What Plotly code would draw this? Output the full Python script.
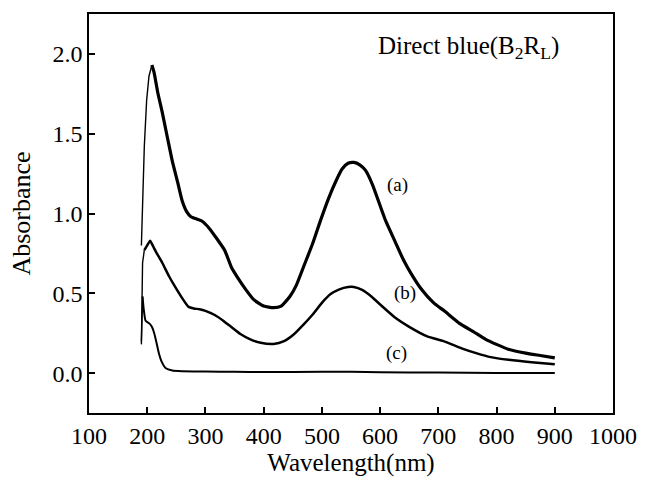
import plotly.graph_objects as go

# Curve (a)
wl_a = [190, 192, 195, 199, 203, 208, 212, 218, 226, 235, 243, 252, 260, 268, 275, 285, 295, 307, 320, 333,
        345, 355, 370, 383, 400, 417, 430, 445, 456, 470, 484, 498, 512, 525, 535, 545, 555, 565, 575, 587,
        597, 610, 625, 640, 653, 670, 692, 710, 737, 760, 782, 800, 820, 850, 875, 900]
abs_a = [0.80, 1.08, 1.42, 1.71, 1.86, 1.93, 1.88, 1.76, 1.63, 1.47, 1.33, 1.20, 1.08, 1.01, 0.98, 0.965, 0.95, 0.905, 0.84, 0.77,
         0.66, 0.60, 0.52, 0.46, 0.42, 0.41, 0.42, 0.48, 0.55, 0.68, 0.81, 0.96, 1.10, 1.21, 1.28, 1.315, 1.32, 1.305, 1.27, 1.18,
         1.08, 0.95, 0.83, 0.71, 0.625, 0.53, 0.44, 0.39, 0.31, 0.26, 0.21, 0.18, 0.15, 0.125, 0.11, 0.095]

# Curve (b)
wl_b = [190, 191, 192, 195, 200, 205, 208, 215, 226, 237, 248, 260, 271, 280, 290, 300, 316, 330, 344, 360,
        378, 395, 417, 435, 451, 470, 485, 500, 515, 530, 545, 555, 570, 585, 600, 625, 650, 681, 709, 740, 765,
        790, 821, 860, 900]
abs_b = [0.18, 0.45, 0.69, 0.77, 0.80, 0.83, 0.81, 0.76, 0.69, 0.61, 0.54, 0.47, 0.415, 0.405, 0.40, 0.39, 0.364, 0.33, 0.29, 0.245,
         0.21, 0.19, 0.183, 0.20, 0.24, 0.31, 0.37, 0.44, 0.495, 0.525, 0.54, 0.54, 0.52, 0.48, 0.43, 0.35, 0.29, 0.23, 0.20, 0.155, 0.125,
         0.10, 0.083, 0.068, 0.056]

# Curve (c)
wl_c = [190, 192, 194, 197, 200, 204, 208, 212, 216, 220, 225, 232, 243, 260, 300, 350, 400, 500, 550, 600, 700, 800, 900]
abs_c = [0.20, 0.48, 0.40, 0.33, 0.32, 0.31, 0.29, 0.25, 0.19, 0.125, 0.07, 0.03, 0.016, 0.012, 0.01, 0.008, 0.007, 0.008, 0.009, 0.006, 0.003, 0.001, 0.0]

curve_labels = ["(a)", "(b)", "(c)"]
label_x = [630, 642, 628]
label_y = [1.18, 0.50, 0.128]

FONT = "Times New Roman, Liberation Serif, serif"

fig = go.Figure()
# (x, y, index where the thin rising edge ends, main width)
series = [(wl_a, abs_a, 5, 3.2), (wl_b, abs_b, 3, 2.5), (wl_c, abs_c, 1, 2)]
for wl, ab, k, w in series:
    fig.add_trace(go.Scatter(x=wl[:k + 1], y=ab[:k + 1], mode="lines",
                             line=dict(color="black", width=1.4),
                             showlegend=False, hoverinfo="skip"))
    fig.add_trace(go.Scatter(x=wl[k:], y=ab[k:], mode="lines",
                             line=dict(color="black", width=w, shape="spline", smoothing=0.5),
                             showlegend=False, hoverinfo="skip"))

for t, x, y in zip(curve_labels, label_x, label_y):
    fig.add_annotation(x=x, y=y, text=t, showarrow=False, xref="x", yref="y",
                       font=dict(family=FONT, size=19, color="black"))

fig.add_annotation(x=752, y=2.04, text="Direct blue(B<sub>2</sub>R<sub>L</sub>)", showarrow=False,
                   xref="x", yref="y", font=dict(family=FONT, size=25, color="black"))

axis_common = dict(showline=True, mirror=True, linecolor="black", linewidth=1.5,
                   ticks="inside", ticklen=6, tickwidth=1.5, tickcolor="black",
                   showgrid=False, zeroline=False,
                   tickfont=dict(family=FONT, size=24, color="black"))

fig.update_layout(
    width=649, height=482,
    margin=dict(l=88.5, r=26.3, t=13.5, b=69),
    plot_bgcolor="white", paper_bgcolor="white",
    font=dict(family=FONT, size=24, color="black"),
    xaxis=dict(range=[100, 1000], dtick=100, tick0=100,
               title=dict(text="Wavelength(nm)", font=dict(family=FONT, size=25, color="black"), standoff=4),
               **axis_common),
    yaxis=dict(range=[-0.25, 2.25], dtick=0.5, tick0=0, tickformat=".1f",
               title=dict(text="Absorbance", font=dict(family=FONT, size=26, color="black"), standoff=14),
               **axis_common),
)

fig.write_html("out.html")
